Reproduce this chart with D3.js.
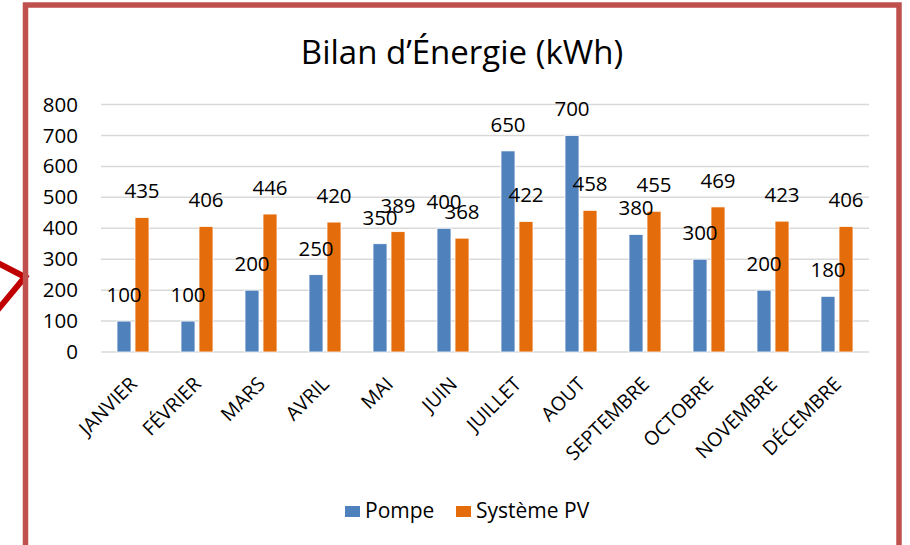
<!DOCTYPE html>
<html><head><meta charset="utf-8">
<script src="https://cdn.jsdelivr.net/npm/d3@7"></script>
<style>
html,body{margin:0;padding:0;background:#fff;}
svg{display:block;}
svg text{font-family:"Open Sans",Lato,sans-serif;}
</style></head>
<body>
<svg id="c" width="910" height="545"></svg>
<script>
const months = ["JANVIER","FÉVRIER","MARS","AVRIL","MAI","JUIN","JUILLET","AOUT","SEPTEMBRE","OCTOBRE","NOVEMBRE","DÉCEMBRE"];
const seriesNames = ["Pompe","Système PV"];
const pompe = [100,100,200,250,350,400,650,700,380,300,200,180];
const pv = [435,406,446,420,389,368,422,458,455,469,423,406];
const yTicks = [0,100,200,300,400,500,600,700,800];
const colors = ["#4F81BD","#E46C0A"];
const title = "Bilan d’Énergie (kWh)";

const svg = d3.select("#c");
const pLeft = 101, pRight = 869, pTop = 104.5, pBottom = 352;

// chevron arrow on left
svg.append("polyline")
  .attr("points","-4,262 25,277 -4,312")
  .attr("fill","none").attr("stroke","#C00000").attr("stroke-width",6);

// frame
svg.append("rect").attr("x",25.5).attr("y",5).attr("width",873.5).attr("height",560)
  .attr("fill","none").attr("stroke","#C0504D").attr("stroke-width",5.5);

svg.append("text").attr("x",462).attr("y",64).attr("text-anchor","middle")
  .attr("font-size",33).attr("fill","#000").text(title);

const x0 = d3.scaleBand().domain(months).range([pLeft,pRight]).padding(0);
const x1 = d3.scaleBand().domain(seriesNames).range([0,x0.bandwidth()]).paddingInner(0.222).paddingOuter(0.889);
const y = d3.scaleLinear().domain([0,800]).range([pBottom,pTop]);

// gridlines
svg.append("g").selectAll("line").data(yTicks).join("line")
  .attr("x1",pLeft).attr("x2",pRight).attr("y1",d=>y(d)).attr("y2",d=>y(d))
  .attr("stroke","#D9D9D9").attr("stroke-width",1.5);

// y axis labels
const yAxis = d3.axisLeft(y).tickValues(yTicks).tickSize(0).tickPadding(0);
const ga = svg.append("g").attr("transform",`translate(${78},0)`).call(yAxis)
  .attr("font-family",null).attr("font-size",null);
ga.select(".domain").remove();
ga.selectAll("text").attr("font-size",20.5).attr("fill","#000");

const data = months.map((m,i)=>({m, vals:[pompe[i],pv[i]]}));
const groups = svg.append("g").selectAll("g").data(data).join("g")
  .attr("transform",d=>`translate(${x0(d.m)},0)`);
groups.selectAll("rect").data(d=>d.vals.map((v,k)=>({k,v}))).join("rect")
  .attr("x",d=>x1(seriesNames[d.k])).attr("width",x1.bandwidth())
  .attr("y",d=>y(d.v)).attr("height",d=>y(0)-y(d.v))
  .attr("fill",d=>colors[d.k]).attr("stroke","#fff").attr("stroke-width",0.8);
groups.selectAll("text").data(d=>d.vals.map((v,k)=>({k,v}))).join("text")
  .attr("x",d=>x1(seriesNames[d.k])+x1.bandwidth()/2)
  .attr("y",d=>y(d.v)-19)
  .attr("text-anchor","middle").attr("font-size",20.5).attr("fill","#000")
  .text(d=>d.v);

// x axis labels
const xa = d3.axisBottom(x0).tickSize(0).tickPadding(0);
const gx = svg.append("g").attr("transform",`translate(0,${pBottom})`).call(xa)
  .attr("font-family",null).attr("font-size",null);
gx.select(".domain").remove();
gx.selectAll("text").attr("font-size",19.5).attr("fill","#000")
  .attr("text-anchor","end").attr("dy",null).attr("y",null)
  .attr("dominant-baseline","central")
  .attr("transform","translate(0,28) rotate(-45)");

// legend
const leg = svg.append("g");
const legX = [345, 456];
seriesNames.forEach((s,i)=>{
  leg.append("rect").attr("x",legX[i]).attr("y",506).attr("width",15).attr("height",11).attr("fill",colors[i]);
  leg.append("text").attr("x",legX[i]+20).attr("y",518).attr("font-size",21).attr("fill","#000").text(s);
});
</script>
</body></html>
